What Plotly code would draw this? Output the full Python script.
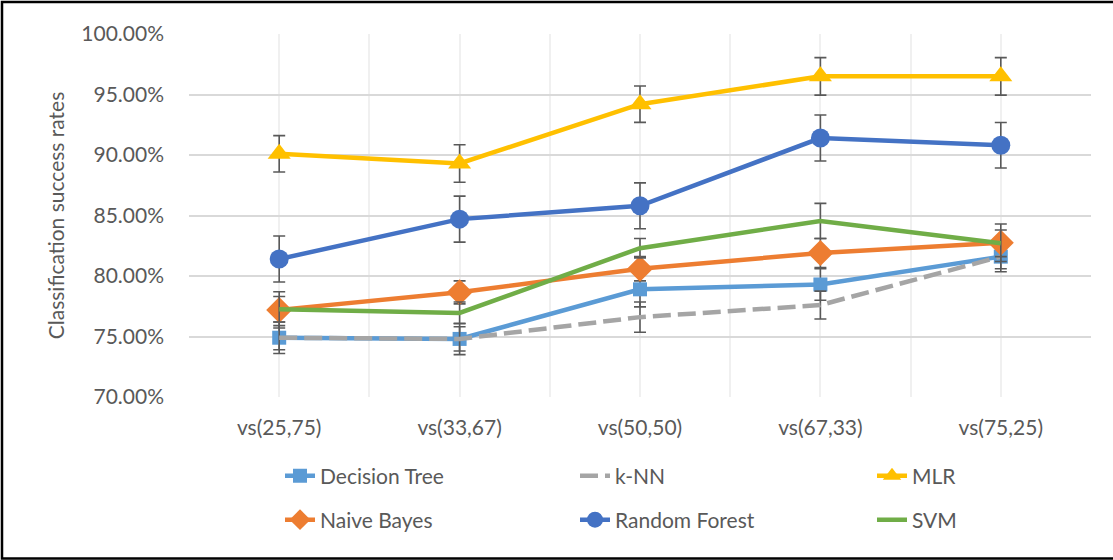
import plotly.graph_objects as go

categories = ["vs(25,75)", "vs(33,67)", "vs(50,50)", "vs(67,33)", "vs(75,25)"]

decision_tree = [74.9, 74.8, 78.9, 79.3, 81.6]
knn = [74.9, 74.8, 76.6, 77.6, 81.6]
mlr = [90.1, 89.3, 94.2, 96.5, 96.5]
naive_bayes = [77.2, 78.65, 80.6, 81.9, 82.75]
random_forest = [81.4, 84.7, 85.8, 91.4, 90.8]
svm = [77.25, 76.95, 82.3, 84.55, 82.7]

err_dt = [1.3, 1.3, 1.45, 1.3, 1.25]
err_knn = [1.0, 1.0, 1.25, 1.15, 1.0]
err_mlr = [1.5, 1.55, 1.5, 1.55, 1.55]
err_nb = [1.5, 0.95, 1.0, 1.2, 1.55]
err_rf = [1.9, 1.9, 1.9, 1.9, 1.88]
err_svm = [1.05, 0.9, 0.8, 1.45, 1.1]

x = list(range(len(categories)))
TXT = "#595959"
FONT = "Lato, 'Open Sans', sans-serif"

# plot area geometry in pixels
L, R, T, B = 189, 1091, 34, 397
W, H = 1113, 560
pw, ph = R - L, B - T

def px_x(p):
    return (p - L) / pw

def px_y(p):
    return (B - p) / ph

series = [
    ("Decision Tree", decision_tree, err_dt, "#5B9BD5", "solid", "square", 14, (320, 476)),
    ("k-NN", knn, err_knn, "#A5A5A5", "18px,7px", None, 0, (615, 476)),
    ("MLR", mlr, err_mlr, "#FFC000", "solid", "triangle-up", 20, (912, 476)),
    ("Naive Bayes", naive_bayes, err_nb, "#ED7D31", "solid", "diamond", 20, (320, 520)),
    ("Random Forest", random_forest, err_rf, "#4472C4", "solid", "circle", 19, (615, 520)),
    ("SVM", svm, err_svm, "#70AD47", "solid", None, 0, (912, 520)),
]

fig = go.Figure()
legends = {}
for i, (name, vals, errs, color, dash, sym, size, pos) in enumerate(series):
    lname = "legend" if i == 0 else f"legend{i + 1}"
    fig.add_trace(go.Scatter(
        x=x, y=vals, name=name,
        mode="lines+markers" if sym else "lines",
        line=dict(color=color, width=4.5, dash=dash),
        marker=dict(symbol=sym, size=size, color=color) if sym else None,
        error_y=dict(type="data", array=errs, visible=True,
                     color="#595959", thickness=1.6, width=6),
        legend=lname,
        showlegend=True,
    ))
    legends[lname] = dict(
        x=px_x(pos[0] - 40), y=px_y(pos[1]),
        xanchor="left", yanchor="middle",
        font=dict(family=FONT, size=21, color=TXT),
        bgcolor="rgba(0,0,0,0)",
        itemclick=False,
    )

fig.update_layout(
    width=W, height=H,
    showlegend=True,
    margin=dict(l=L, r=W - R, t=T, b=H - B, autoexpand=False),
    paper_bgcolor="white",
    plot_bgcolor="white",
    font=dict(family=FONT, color=TXT),
    xaxis=dict(
        range=[-0.5, 4.5],
        tickmode="array", tickvals=x, ticktext=categories,
        showgrid=True, gridcolor="#F0F0F0", gridwidth=1.5,
        minor=dict(showgrid=True, gridcolor="#F0F0F0", gridwidth=1.5,
                   tickmode="linear", tick0=0.5, dtick=1),
        zeroline=False, showline=False, ticks="",
        tickfont=dict(family=FONT, size=21, color=TXT),
        ticklabelstandoff=16,
    ),
    yaxis=dict(
        range=[70, 100], dtick=5, tick0=70,
        tickformat=".2f", ticksuffix="%",
        showgrid=True, gridcolor="#D9D9D9", gridwidth=1.8,
        zeroline=False, showline=False, ticks="",
        tickfont=dict(family=FONT, size=21, color=TXT),
        ticklabelstandoff=24,
        title=dict(text="Classification success rates",
                   font=dict(family=FONT, size=21, color=TXT), standoff=10),
    ),
    shapes=[dict(
        type="rect", xref="paper", yref="paper",
        x0=px_x(2), x1=px_x(1116), y0=px_y(558.5), y1=px_y(2),
        line=dict(color="black", width=2.5), fillcolor="rgba(0,0,0,0)",
        layer="above",
    )],
    **legends,
)

fig.write_html("out.html",
               config={"displayModeBar": False},
               post_script="document.body.style.margin='0';document.body.style.overflow='hidden';")
